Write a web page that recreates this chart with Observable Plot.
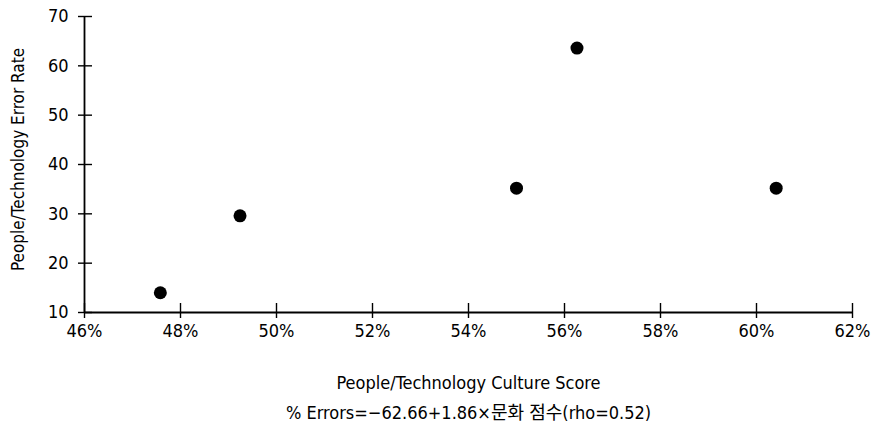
<!DOCTYPE html>
<html>
<head>
<meta charset="utf-8">
<script src="https://cdn.jsdelivr.net/npm/d3@7"></script>
<script src="https://cdn.jsdelivr.net/npm/@observablehq/plot@0.6"></script>
<style>
  html, body { margin: 0; padding: 0; background: #fff; }
  #chart svg { display: block; font-stretch: condensed; }
</style>
</head>
<body>
<div id="chart"></div>
<script>
// Data
const cultureScore = [47.58, 49.24, 55.0, 56.26, 60.41];   // % (x)
const errorRate    = [14.0, 29.6, 35.2, 63.6, 35.2];       // y
const xTicks = [46, 48, 50, 52, 54, 56, 58, 60, 62];
const yTicks = [10, 20, 30, 40, 50, 60, 70];
const xLabel = "People/Technology Culture Score";
const yLabel = "People/Technology Error Rate";
const caption = "% Errors=\u221262.66+1.86\u00d7문화 점수(rho=0.52)";

const points = cultureScore.map((x, i) => ({x, y: errorRate[i]}));

const W = 871, H = 436;
const mL = 84, mR = 19, mT = 16, mB = 124;
const font = "'DejaVu Sans Condensed', 'DejaVu Sans', 'Noto Sans CJK KR', sans-serif";
// pixel -> data helpers for tick lengths
const yPerPx = (70 - 10) / (H - mT - mB);
const xPerPx = (62 - 46) / (W - mL - mR);

const plot = Plot.plot({
  width: W, height: H,
  marginLeft: mL, marginRight: mR, marginTop: mT, marginBottom: mB,
  style: {fontFamily: font, fontSize: "18px", color: "#000", background: "#fff"},
  x: {domain: [46, 62], label: null},
  y: {domain: [10, 70], label: null},
  marks: [
    Plot.axisX(xTicks, {tickSize: 0, tickPadding: 12, tickFormat: d => d + "%", fontSize: 18, label: null}),
    Plot.axisY(yTicks, {tickSize: 0, tickPadding: 16, fontSize: 18, label: null}),
    // axis lines
    Plot.ruleX([46], {y1: 10, y2: 70, stroke: "#000", strokeWidth: 1.8}),
    Plot.ruleY([10], {x1: 46, x2: 62, stroke: "#000", strokeWidth: 1.8}),
    // crossing ticks
    Plot.ruleX(xTicks, {x: d => d, y1: 10 - 6 * yPerPx, y2: 10 + 9 * yPerPx, stroke: "#000", strokeWidth: 1.4}),
    Plot.ruleY(yTicks, {y: d => d, x1: 46 - 6 * xPerPx, x2: 46 + 8 * xPerPx, stroke: "#000", strokeWidth: 1.4}),
    // points
    Plot.dot(points, {x: "x", y: "y", r: 6.5, fill: "#000", stroke: "none"}),
    // labels
    Plot.text([xLabel], {frameAnchor: "bottom", dy: 76, text: d => d, fontSize: 18, fill: "#000"}),
    Plot.text([yLabel], {frameAnchor: "left", textAnchor: "middle", dx: -66, dy: -5, rotate: -90, text: d => d, fontSize: 17, fill: "#000"}),
    Plot.text([caption], {frameAnchor: "bottom", dy: 106, text: d => d, fontSize: 18, fill: "#000"})
  ]
});
document.getElementById("chart").appendChild(plot);
</script>
</body>
</html>
